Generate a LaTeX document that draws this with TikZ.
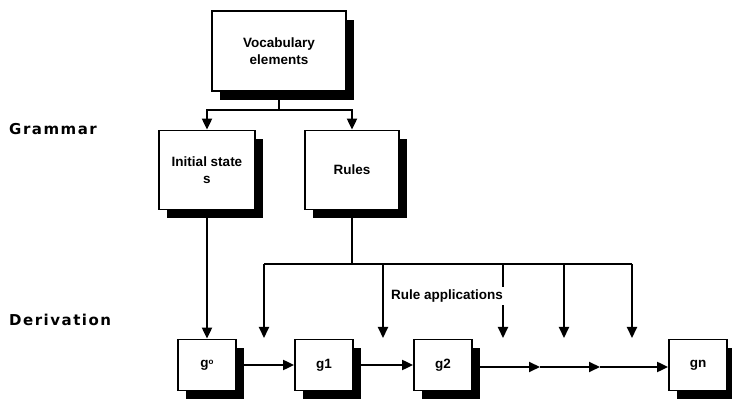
\documentclass[tikz,border=0pt]{standalone}
\usepackage{fontspec}
\setmainfont{Liberation Sans}
\newfontfamily\hdrfont[LetterSpace=10]{DejaVu Sans}
\usetikzlibrary{arrows.meta,shadows}

\begin{document}
\begin{tikzpicture}[
    x=1pt, y=-1pt, >={Triangle[length=11pt,width=10pt]},
    font=\fontsize{13.5}{17}\selectfont\bfseries,
    box/.style ={draw, line width=1.8pt, fill=white, align=center, inner sep=2pt,
                 drop shadow={opacity=1, fill=black, shadow xshift=8pt, shadow yshift=-9pt}},
    sbox/.style={box, minimum width=58pt, minimum height=51pt},
    hdr/.style ={anchor=west, inner sep=0pt,
                 font=\hdrfont\fontsize{15}{17}\selectfont\bfseries},
    lbl/.style ={fill=white, inner sep=3pt},
    conn/.style={line width=2pt},
  ]
  \useasboundingbox (0,0) rectangle (732,403);

  % --- grammar ---
  \node[hdr] (grammar) at (9,129) {Grammar};
  \node[box, minimum width=134pt, minimum height=80pt] (voc) at (279,51) {Vocabulary\\elements};
  \node[box, minimum width=96pt, minimum height=79pt] (init) at (207,170) {Initial state\\s};
  \node[box, minimum width=94pt, minimum height=79pt] (rules) at (352,170) {Rules};

  \coordinate (split) at (279,110);
  \draw[conn] (voc.south) -- (split);
  \draw[conn,->] (split) -| (init.north);
  \draw[conn,->] (split) -| (rules.north);

  % --- derivation ---
  \node[hdr] (derivation) at (9,320) {Derivation};
  \node[sbox] (g0) at (207,365) {g\raisebox{2.5pt}{\footnotesize o}};
  \node[sbox] (g1) at (324,365) {g1};
  \node[sbox] (g2) at (443,365) {g2};
  \node[sbox] (gn) at (698,365) {gn};

  \draw[conn,->] (init.south) -- (g0.north);

  % rule applications feeding the chain
  \foreach \x [count=\i] in {264,383,503,564,632} {
    \coordinate (t\i) at (\x,264);
    \coordinate (h\i) at (\x,338);
    \draw[conn,->] (t\i) -- (h\i);
  }
  \draw[conn] (rules.south) -- (rules.south |- t1);
  \draw[conn] (t1) -- (t5);
  \node[lbl] (ruleapp) at (447,296) {Rule applications};

  \coordinate (m1) at (540,367);
  \coordinate (m2) at (600,367);
  \draw[conn,->] (g0.east) -- (g1.west);
  \draw[conn,->] (g1.east) -- (g2.west);
  \draw[conn,->] (g2.east |- m1) -- (m1);
  \draw[conn,->] (m1) -- (m2);
  \draw[conn,->] (m2) -- (gn.west |- m2);
\end{tikzpicture}
\end{document}
